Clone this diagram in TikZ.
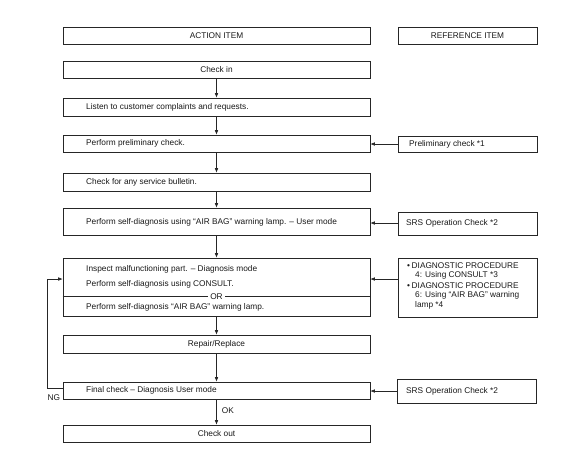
\documentclass[tikz,border=0pt]{standalone}
\usepackage{fontspec}
\setmainfont{Liberation Sans}
\usetikzlibrary{arrows.meta,shadows}
\newcommand\fs{\fontsize{8.3}{10}\selectfont}
\begin{document}
\begin{tikzpicture}[x=1pt,y=-1pt,
  box/.style={draw=black!85, line width=0.6pt, fill=white, inner sep=0pt,
    drop shadow={shadow xshift=0.8pt, shadow yshift=-0.8pt, fill=black!55, opacity=1}},
  abox/.style={box, minimum width=307pt},
  rbox/.style={box, minimum width=139pt},
  txt/.style={font=\fs, inner sep=0pt, text=black!90},
  ltxt/.style={txt, anchor=west},
  arr/.style={draw=black!85, line width=0.6pt, -{Latex[length=4.5pt,width=3.6pt]}},
  ln/.style={draw=black!85, line width=0.6pt}]
\useasboundingbox (0,0) rectangle (578,467);
% headers
\node[abox, minimum height=17pt] (hA) at (216.5,35.5) {};
\node[txt] (hAt) at (hA) {ACTION ITEM};
\node[rbox, minimum height=17pt] (hR) at (467.5,35.5) {};
\node[txt] (hRt) at (hR) {REFERENCE ITEM};
% action boxes
\node[abox, minimum height=17pt] (checkin) at (216.5,69.5) {};
\node[txt] (checkint) at (checkin) {Check in};
\node[abox, minimum height=18pt] (listen) at (216.5,107) {};
\node[ltxt] (listent) at (86,107) {Listen to customer complaints and requests.};
\node[abox, minimum height=17pt] (prelim) at (216.5,143.5) {};
\node[ltxt] (prelimt) at (86,143.5) {Perform preliminary check.};
\node[abox, minimum height=18pt] (bull) at (216.5,182) {};
\node[ltxt] (bullt) at (86,182) {Check for any service bulletin.};
\node[abox, minimum height=27pt] (selfd) at (216.5,221.5) {};
\node[ltxt] (selfdt) at (86,222) {Perform self-diagnosis using “AIR BAG” warning lamp. – User mode};
\node[abox, minimum height=58pt] (insp) at (216.5,287) {};
\node[ltxt] (insp1) at (86,269) {Inspect malfunctioning part. – Diagnosis mode};
\node[ltxt] (insp2) at (86,284) {Perform self-diagnosis using CONSULT.};
\coordinate (orl) at (insp.west |- 0,296.5);
\coordinate (orr) at (insp.east |- 0,296.5);
\draw[ln] (orl) -- (orr);
\node[txt, fill=white, inner xsep=2pt] (ort) at (216.5,296.5) {OR};
\node[ltxt] (insp3) at (86,307.5) {Perform self-diagnosis “AIR BAG” warning lamp.};
\node[abox, minimum height=18pt] (rep) at (216.5,344) {};
\node[txt] (rept) at (rep) {Repair/Replace};
\node[abox, minimum height=17pt] (fin) at (216.5,390.5) {};
\node[ltxt] (fint) at (86,390.5) {Final check – Diagnosis User mode};
\node[abox, minimum height=17pt] (out) at (216.5,433.5) {};
\node[txt] (outt) at (out) {Check out};
% reference boxes
\node[rbox, minimum height=16pt] (rpre) at (467.5,144) {};
\node[ltxt] (rpret) at (409,144) {Preliminary check *1};
\node[rbox, minimum height=23pt] (rsrs) at (467.5,223.5) {};
\node[ltxt] (rsrst) at (406,223.5) {SRS Operation Check *2};
\node[rbox, minimum height=59pt] (rdiag) at (467.5,287.5) {};
\node[ltxt] (d1) at (407,266) {•\hspace{1.6pt}DIAGNOSTIC PROCEDURE};
\node[ltxt] (d2) at (415,275.5) {4: Using CONSULT *3};
\node[ltxt] (d3) at (407,286) {•\hspace{1.6pt}DIAGNOSTIC PROCEDURE};
\node[ltxt] (d4) at (415,295.5) {6: Using “AIR BAG” warning};
\node[ltxt] (d5) at (415,305.5) {lamp *4};
\node[rbox, minimum height=24pt] (rsrs2) at (467,391) {};
\node[ltxt] (rsrs2t) at (406,391) {SRS Operation Check *2};
% vertical flow
\draw[arr] (checkin) -- (listen);
\draw[arr] (listen) -- (prelim);
\draw[arr] (prelim) -- (bull);
\draw[arr] (bull) -- (selfd);
\draw[arr] (selfd) -- (insp);
\draw[arr] (insp) -- (rep);
\draw[arr] (rep) -- (fin);
\draw[arr] (fin) -- node[txt, anchor=west, xshift=5pt, yshift=1pt] (ok) {OK} (out);
% reference arrows
\draw[arr] (rpre.west) -- (rpre.west -| prelim.east);
\draw[arr] ([yshift=0.5pt]rsrs.west) -- ([yshift=0.5pt]rsrs.west -| selfd.east);
\coordinate (dj) at ([yshift=8.5pt]rdiag.west);
\draw[arr] (dj) -- (dj -| insp.east);
\draw[arr] (rsrs2.west) -- (rsrs2.west -| fin.east);
% NG loop
\coordinate (ngs) at ([yshift=2pt]fin.west);
\coordinate (ngt) at ([yshift=8pt]insp.west);
\draw[arr] (ngs) -- (47,0 |- ngs) -- (47,0 |- ngt) -- (ngt);
\node[txt, anchor=north west] (ng) at (47.5,394) {NG};
\end{tikzpicture}
\end{document}
